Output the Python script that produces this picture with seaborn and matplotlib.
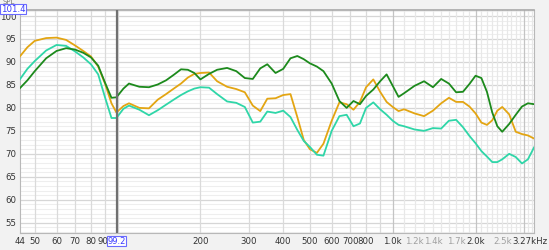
import numpy as np
import pandas as pd
import matplotlib
matplotlib.use("Agg")
import matplotlib.pyplot as plt
from matplotlib.transforms import ScaledTranslation
import seaborn as sns

# ---- data ----
freq_hz = [44, 47, 50, 55, 60, 65, 70, 75, 80, 85, 90, 95, 99, 105, 110, 120, 130, 140,
           150, 160, 170, 180, 190, 200, 215, 230, 250, 270, 290, 310, 330, 350, 375,
           400, 425, 450, 475, 500, 530, 560, 600, 640, 680, 720, 760, 800, 850, 900,
           950, 1000, 1050, 1100, 1200, 1300, 1400, 1500, 1600, 1700, 1800, 1900, 2000,
           2100, 2200, 2300, 2400, 2500, 2650, 2800, 2950, 3100, 3270]

green_db = [84.2, 86.0, 88.0, 90.8, 92.4, 93.0, 92.7, 92.0, 91.0, 89.2, 85.5, 82.2, 82.3,
            84.2, 85.3, 84.6, 84.5, 85.1, 86.0, 87.2, 88.4, 88.3, 87.6, 86.2, 87.4, 88.3,
            88.7, 88.0, 86.5, 86.3, 88.6, 89.5, 87.6, 88.5, 90.8, 91.3, 90.6, 89.7, 89.0,
            88.0, 85.3, 81.5, 80.0, 81.5, 80.8, 82.6, 84.0, 85.8, 87.3, 84.8, 82.4, 83.2,
            84.8, 85.8, 84.5, 86.3, 85.3, 83.4, 83.5, 85.2, 87.0, 86.5, 83.5, 79.0, 76.0,
            74.8, 76.5, 78.5, 80.3, 81.0, 80.8]

orange_db = [91.1, 93.2, 94.6, 95.2, 95.3, 94.8, 93.6, 92.4, 91.2, 89.0, 85.3, 81.0, 79.0,
             80.4, 81.0, 80.0, 79.9, 81.8, 83.0, 84.2, 85.3, 86.6, 87.4, 87.6, 87.7, 85.8,
             84.6, 84.1, 83.4, 80.5, 79.3, 82.0, 82.1, 82.8, 83.0, 78.0, 73.0, 71.0, 70.2,
             72.2, 77.2, 81.2, 80.8, 79.6, 81.3, 84.5, 86.2, 83.5, 81.3, 80.2, 79.3, 79.7,
             78.8, 78.2, 79.4, 81.0, 82.2, 81.3, 81.3, 80.3, 78.8, 76.8, 76.3, 77.3, 79.4,
             80.2, 78.6, 74.8, 74.3, 74.0, 73.3]

teal_db = [86.1, 88.5, 90.2, 92.5, 93.7, 93.5, 92.3, 91.0, 89.5, 87.3, 82.3, 77.8, 77.8,
           79.8, 80.5, 79.6, 78.4, 79.5, 80.7, 81.8, 82.8, 83.6, 84.2, 84.5, 84.4, 83.0,
           81.4, 81.1, 80.2, 76.8, 77.0, 79.2, 78.9, 79.4, 78.0, 75.2, 72.8, 71.5, 69.8,
           69.6, 75.0, 78.2, 78.5, 76.0, 76.6, 80.0, 81.2, 79.7, 78.5, 77.2, 76.3, 76.0,
           75.3, 75.0, 75.6, 75.5, 77.2, 77.4, 75.8, 73.9, 72.3, 70.6, 69.4, 68.2, 68.2,
           68.8, 70.0, 69.3, 67.9, 68.8, 71.5]

x_tick_vals = [44, 50, 60, 70, 80, 90, 200, 300, 400, 500, 600, 700, 800, 1000, 1200,
               1400, 1700, 2000, 2500, 3270]
x_tick_labels = ["44", "50", "60", "70", "80", "90", "200", "300", "400", "500", "600",
                 "700", "800", "1.0k", "1.2k", "1.4k", "1.7k", "2.0k", "2.5k", "3.27kHz"]
faint_labels = ["1.2k", "1.4k", "1.7k", "2.5k"]
y_tick_vals = [55, 60, 65, 70, 75, 80, 85, 90, 95, 100]
cursor_hz = 99.2
cursor_label = "99.2"
top_label = "101.4"
axis_name = "SPL"

# ---- figure ----
sns.set_style("white")
plt.rcParams["font.family"] = ["DejaVu Sans"]

fig = plt.figure(figsize=(5.49, 2.50), dpi=100, facecolor="#f2f2f2")
ax = fig.add_axes([19.5 / 549, 17 / 250, (534.3 - 19.5) / 549, (233 - 9.6) / 250])
ax.set_facecolor("white")

ax.set_xscale("log")
ax.set_xlim(44, 3270)
ax.set_ylim(52.76, 101.4)

# grid lines
minor_y = [v for v in range(53, 102) if v % 5 != 0]
for v in minor_y:
    ax.axhline(v, color="#eeeeee", lw=0.8, zorder=0)
for v in y_tick_vals:
    ax.axhline(v, color="#d6d6d6", lw=0.9, zorder=0)

vlines_med = [50, 60, 70, 80, 90, 100, 200, 300, 400, 500, 600, 700, 800, 900]
for v in vlines_med:
    ax.axvline(v, color="#dadada", lw=0.9, zorder=0)
vlines_minor = [1100, 1200, 1300, 1400, 1500, 1600, 1700, 1800, 1900,
                2100, 2200, 2300, 2400, 2500, 2600, 2700, 2800, 2900, 3100, 3200]
for v in vlines_minor:
    ax.axvline(v, color="#e8e8e8", lw=0.9, zorder=0)
for v in [1000, 2000, 3000]:
    ax.axvline(v, color="#c4c4c4", lw=0.9, zorder=0)

df = pd.DataFrame({"f": freq_hz, "green": green_db, "orange": orange_db, "teal": teal_db})
sns.lineplot(data=df, x="f", y="orange", ax=ax, color="#e3a512", lw=1.3, zorder=3)
sns.lineplot(data=df, x="f", y="teal", ax=ax, color="#2fd6a8", lw=1.3, zorder=3)
sns.lineplot(data=df, x="f", y="green", ax=ax, color="#1c8a1c", lw=1.3, zorder=4)

# cursor
ax.axvline(cursor_hz, color="#707070", lw=1.6, zorder=5)

ax.set_xlabel("")
ax.set_ylabel("")
ax.set_xticks(x_tick_vals)
ax.set_xticklabels(x_tick_labels)
ax.xaxis.set_minor_locator(matplotlib.ticker.NullLocator())
ax.set_yticks(y_tick_vals)
ax.set_yticklabels([str(v) for v in y_tick_vals])
ax.tick_params(axis="both", length=0, labelsize=6.2, colors="#333333", pad=2)
ax.tick_params(axis="x", pad=3)
for lbl in ax.get_xticklabels():
    if lbl.get_text() in faint_labels:
        lbl.set_color("#a0a0a0")
    if lbl.get_text() == "3.27kHz":
        lbl.set_transform(lbl.get_transform() + ScaledTranslation(-4.5 / 100, 0, fig.dpi_scale_trans))
    if lbl.get_text() == "44":
        lbl.set_transform(lbl.get_transform() + ScaledTranslation(0.5 / 100, 0, fig.dpi_scale_trans))
    if lbl.get_text() == "90":
        lbl.set_transform(lbl.get_transform() + ScaledTranslation(-2.0 / 100, 0, fig.dpi_scale_trans))

for s in ax.spines.values():
    s.set_color("#b8b8b8")
    s.set_linewidth(0.8)
ax.spines["top"].set_color("#a8a8a8")
ax.spines["top"].set_linewidth(1.2)

# cursor label boxes
box = dict(boxstyle="square,pad=0.08", fc="white", ec="#6a6aff", lw=0.8)
ax.text(cursor_hz, -0.036, cursor_label, transform=ax.get_xaxis_transform(),
        ha="center", va="center", fontsize=6.0, color="#3a3aff", bbox=box, zorder=6,
        clip_on=False)
fig.text(1 / 549, 1 - 9 / 250, top_label, ha="left", va="center", fontsize=6.2,
         color="#3a3aff", bbox=box)
fig.text(9 / 549, 1 - 1.5 / 250, axis_name, ha="center", va="center", fontsize=5,
         color="#777777")

fig.savefig("out.png", dpi=100, facecolor=fig.get_facecolor())
